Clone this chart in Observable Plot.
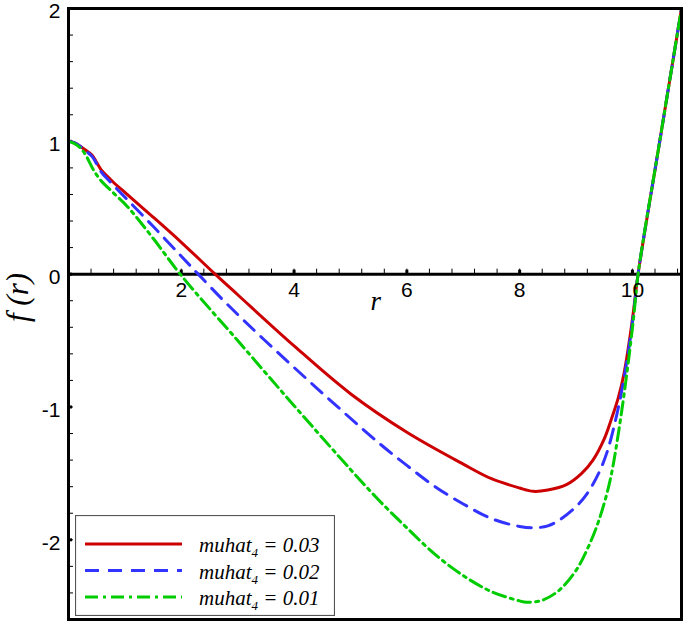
<!DOCTYPE html>
<html><head><meta charset="utf-8">
<script src="https://cdn.jsdelivr.net/npm/d3@7"></script>
<script src="https://cdn.jsdelivr.net/npm/@observablehq/plot@0.6"></script>
<style>
body{margin:0;background:#fff}
#wrap{position:relative;width:685px;height:623px}
#legend{position:absolute;left:75px;top:515px}
</style>
</head><body><div id="wrap"></div>
<script>
// Series labels
const seriesLabels = ["0.03", "0.02", "0.01"];
const seriesColors = ["#cc0000", "#3333ff", "#00cc00"];
const seriesDash = [null, "14,9", "13,5,3,5"];

// muhat4 = 0.03
const r03 = [0,0.1,0.2,0.3,0.42,0.5,0.58,0.68,0.8,1.0,1.5,2.0,2.6,3.0,4.0,5.0,6.0,7.0,7.5,8.0,8.24,8.5,8.83,9.1,9.3,9.5,9.62,9.75,9.85,9.95,10.03,10.1,10.48,10.87];
const f03 = [1,0.99,0.965,0.935,0.895,0.84,0.785,0.74,0.69,0.615,0.43,0.24,0.0,-0.155,-0.54,-0.90,-1.19,-1.43,-1.54,-1.61,-1.635,-1.625,-1.585,-1.50,-1.40,-1.24,-1.10,-0.93,-0.75,-0.49,-0.24,0.0,0.99,2.0];
// muhat4 = 0.02
const r02 = [0,0.1,0.2,0.3,0.42,0.5,0.58,0.74,1.0,1.5,2.0,2.3,2.8,3.46,4.46,5.5,6.0,6.5,7.0,7.5,8.0,8.24,8.5,8.71,9.0,9.2,9.4,9.55,9.7,9.8,9.9,10.01,10.1,10.48,10.87];
const f02 = [1,0.99,0.965,0.93,0.885,0.83,0.77,0.694,0.58,0.36,0.135,0.0,-0.22,-0.49,-0.88,-1.27,-1.44,-1.60,-1.73,-1.84,-1.90,-1.91,-1.895,-1.85,-1.75,-1.65,-1.50,-1.34,-1.10,-0.90,-0.66,-0.33,0.0,0.99,2.0];
// muhat4 = 0.01
const r01 = [0,0.1,0.2,0.3,0.45,0.57,0.8,1.05,1.5,2.0,3.0,4.0,5.0,5.5,6.0,6.5,7.0,7.5,8.0,8.12,8.4,8.7,9.0,9.2,9.4,9.6,9.75,9.9,10.02,10.1,10.48,10.87];
const f01 = [1,0.985,0.955,0.90,0.78,0.707,0.61,0.506,0.27,-0.01,-0.50,-0.99,-1.47,-1.70,-1.91,-2.11,-2.27,-2.39,-2.46,-2.47,-2.455,-2.38,-2.23,-2.07,-1.86,-1.56,-1.20,-0.75,-0.33,0.0,0.99,2.0];

// Ticks
const xTickLabels = [2, 4, 6, 8, 10];
const yTickLabels = [-2, -1, 0, 1, 2];
const xDomain = [0, 10.87];
const yDomain = [-2.6, 2];

const W = 685, H = 623, mL = 68, mR = 4, mT = 8, mB = 4;
const xPerPx = (xDomain[1] - xDomain[0]) / (W - mL - mR);
const yPerPx = (yDomain[1] - yDomain[0]) / (H - mT - mB);
const xMinor = d3.range(0, xDomain[1], 0.4);
const yMinor = d3.range(-2.6, 2.0001, 0.2).map(v => +v.toFixed(2));

const toRows = (rs, fs) => rs.map((r, i) => ({r, f: fs[i]}));
const data = [toRows(r03, f03), toRows(r02, f02), toRows(r01, f01)];

const sans = "Liberation Sans, Arial, sans-serif";
const serif = "Liberation Serif, Times New Roman, serif";

const plot = Plot.plot({
  width: W, height: H,
  marginLeft: mL, marginRight: mR, marginTop: mT, marginBottom: mB,
  x: {domain: xDomain, axis: null},
  y: {domain: yDomain, axis: null},
  style: {fontFamily: sans, overflow: "visible", background: "white"},
  marks: [
    Plot.ruleX(xMinor, {x: d => d, y1: 0, y2: 5 * yPerPx, stroke: "black", strokeWidth: 1}),
    Plot.ruleX(xTickLabels, {x: d => d, y1: 0, y2: 4 * yPerPx, stroke: "black", strokeWidth: 3}),
    Plot.ruleY(yMinor, {y: d => d, x1: 0, x2: 5 * xPerPx, stroke: "black", strokeWidth: 1}),
    Plot.ruleY(yTickLabels, {y: d => d, x1: 0, x2: 4 * xPerPx, stroke: "black", strokeWidth: 3}),
    Plot.ruleY([0], {stroke: "black", strokeWidth: 3}),
    ...data.map((rows, i) => Plot.line(rows, {
      x: "r", y: "f", stroke: seriesColors[i], strokeWidth: 3,
      strokeDasharray: seriesDash[i], curve: "catmull-rom"
    })),
    Plot.text(yTickLabels, {x: 0, y: d => d, text: d => String(d), textAnchor: "end", dx: -8, dy: 3, fontSize: 21, fill: "black"}),
    Plot.text(xTickLabels, {x: d => d, y: 0, text: d => String(d), dy: 16, fontSize: 21, fill: "black"}),
    Plot.text(["r"], {x: 5.45, y: 0, text: d => d, dy: 27, fontSize: 27, fontStyle: "italic", fontFamily: serif, fill: "black"}),
    Plot.text(["f (r)"], {frameAnchor: "left", text: d => d, dx: -50, dy: 8, rotate: -90, fontSize: 31, fontStyle: "italic", fontFamily: serif, fill: "black"}),
    Plot.frame({stroke: "black", strokeWidth: 3})
  ]
});
document.getElementById("wrap").appendChild(plot);

// Legend
const lg = d3.select("#wrap").append("svg")
  .attr("id", "legend").attr("width", 260).attr("height", 101);
lg.append("rect").attr("x", 0.5).attr("y", 0.5).attr("width", 259).attr("height", 100)
  .attr("fill", "white").attr("stroke", "#555").attr("stroke-width", 1.2);
seriesLabels.forEach((lab, i) => {
  const y = 29 + i * 26.5;
  lg.append("line").attr("x1", 10).attr("x2", 107).attr("y1", y).attr("y2", y)
    .attr("stroke", seriesColors[i]).attr("stroke-width", 3)
    .attr("stroke-dasharray", seriesDash[i]);
  const t = lg.append("text").attr("x", 124).attr("y", y + 8)
    .attr("font-family", serif).attr("font-style", "italic").attr("font-size", 21);
  t.append("tspan").text("muhat");
  t.append("tspan").attr("font-size", 13).attr("dy", 5).text("4");
  t.append("tspan").attr("dy", -5).text(" = " + lab);
});
</script>
</body></html>
